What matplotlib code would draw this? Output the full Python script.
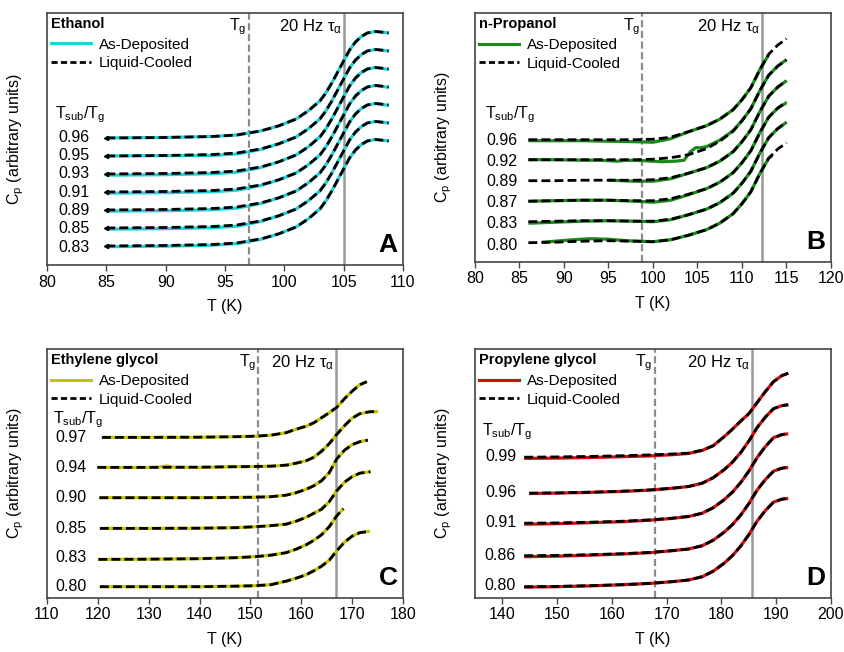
import matplotlib
matplotlib.use("Agg")
import matplotlib.pyplot as plt
from matplotlib.lines import Line2D

plt.rcParams['font.family'] = ['Liberation Sans', 'DejaVu Sans']
plt.rcParams['mathtext.fontset'] = 'custom'
plt.rcParams['mathtext.rm'] = 'Liberation Sans'
plt.rcParams['mathtext.it'] = 'Liberation Sans:italic'
plt.rcParams['mathtext.bf'] = 'Liberation Sans:bold'

# ---------------- A: Ethanol ----------------
T_A = [85, 90, 94, 96, 98, 99.5, 101, 102, 103, 103.5, 104, 104.5, 105, 105.5, 106, 106.5, 107, 107.7, 108.8]
lc_a083 = [19, 19.5, 20.5, 22, 26, 31, 38, 46, 56, 64, 74, 85, 96, 107, 115, 120.5, 124, 125.5, 124]
lc_a085 = [37, 37.5, 38.5, 40, 44, 49, 56, 64, 74, 82, 92, 103, 114, 125, 133, 138.5, 142, 143.5, 142]
lc_a089 = [55, 55.5, 56.5, 58, 62, 67, 74, 82, 92, 100, 110, 121, 132, 143, 151, 156.5, 160, 161.5, 160]
lc_a091 = [73, 73.5, 74.5, 76, 80, 85, 92, 100, 110, 118, 128, 139, 150, 161, 169, 174.5, 178, 179.5, 178]
lc_a093 = [91, 91.5, 92.5, 94, 98, 103, 110, 118, 128, 136, 146, 157, 168, 179, 187, 192.5, 196, 197.5, 196]
lc_a095 = [109, 109.5, 110.5, 112, 116, 121, 128, 136, 146, 154, 164, 175, 186, 197, 205, 210.5, 214, 215.5, 214]
lc_a096 = [127, 127.5, 128.5, 130, 134, 139, 146, 154, 164, 172, 182, 193, 204, 215, 223, 228.5, 232, 233.5, 232]
ad_a083 = [18.3, 18.8, 19.8, 21.4, 25.6, 31, 38, 46, 56, 64, 74, 85, 96, 107, 115, 120.5, 124, 125.5, 124]
ad_a085 = [35.8, 36.3, 37.3, 38.8, 43.4, 49, 56, 64, 74, 82, 92, 103, 114, 125, 133, 138.5, 142, 143.5, 142]
ad_a089 = [53.8, 54.3, 55.3, 56.8, 61.4, 67, 74, 82, 92, 100, 110, 121, 132, 143, 151, 156.5, 160, 161.5, 159.5]
ad_a091 = [71.8, 72.3, 73.3, 74.8, 79.4, 85, 92, 100, 110, 118, 128, 139, 150, 161, 169, 174.5, 178, 179.5, 177.5]
ad_a093 = [89.8, 90.3, 91.3, 92.8, 97.4, 103, 110, 118, 128, 136, 146, 157, 168, 179, 187, 192.5, 196, 197.5, 195.5]
ad_a095 = [109, 109.3, 109.6, 111, 115.5, 121, 128, 136, 146, 154, 164, 175, 186, 197, 205, 210.5, 214, 215.5, 214]
ad_a096 = [127, 127.5, 128.5, 130, 134, 139, 146, 154, 164, 172, 182, 193, 204, 215, 223, 228.5, 232, 233.5, 232]
labels_A = ['0.83', '0.85', '0.89', '0.91', '0.93', '0.95', '0.96']
label_y_A = [17.5, 36, 54, 72.5, 91, 109, 127]

# ---------------- B: n-Propanol ----------------
T_B = [86, 89, 92, 95, 98, 100, 102, 104, 106, 107.5, 109, 110, 111, 112, 113, 114, 115]
lc_b080 = [19, 19.5, 20.5, 21, 20.5, 20, 22, 26.5, 32, 38.5, 48, 58, 70, 88, 103.5, 112.5, 119]
lc_b083 = [40, 40.5, 41, 41, 40.5, 40.5, 42.5, 47, 52.5, 59, 68.5, 78.5, 90.5, 108.5, 124, 133, 139.5]
lc_b087 = [60.5, 61, 61.5, 61.5, 61, 61, 63, 67.5, 73, 79.5, 89, 99, 111, 129, 144.5, 153.5, 160]
lc_b089 = [81, 81, 81.5, 81.5, 81.5, 82, 84, 88.5, 94, 100.5, 110, 120, 132, 150, 165.5, 174.5, 181]
lc_b092 = [102, 102, 102, 102, 102, 102.5, 104, 107, 113, 120.5, 130.5, 141, 153, 171, 186.5, 195.5, 202]
lc_b096 = [122, 122, 122, 122, 122, 122.5, 124.5, 130, 136, 142.5, 152, 162, 174, 192, 207.5, 216.5, 223]
T_ad_b080 = [87.5, 89, 91, 93, 95, 97, 100, 102, 104, 106, 107.5, 109, 110, 111, 112, 113, 113.4]
ad_b080 = [19.5, 20.5, 22, 23, 22.5, 21, 20, 22, 26.5, 32, 38.5, 48, 58, 70, 88, 103.5, 106]
ad_b083 = [38.5, 39.5, 40.5, 41, 40.5, 40, 42, 47, 52.5, 59, 68.5, 78.5, 90.5, 108.5, 124, 133, 139.5]
ad_b087 = [60.5, 61, 61.5, 61.5, 60.5, 59.5, 61.5, 67, 73, 79.5, 89, 99, 111, 129, 144.5, 153.5, 159]
T_ad_b089 = [95, 98, 100, 102, 104, 106, 107.5, 109, 110, 111, 112, 113, 114, 115]
ad_b089 = [81.5, 80.5, 80.5, 83, 88.5, 94, 100.5, 110, 120, 132, 150, 165.5, 174.5, 181]
T_ad_b092 = [86, 89, 92, 94, 96, 97, 99, 101, 102.5, 103.5, 104.2, 104.8, 105.4, 106, 107.5, 109, 110, 111, 112,
             113, 114, 115]
ad_b092 = [102, 102, 101.5, 101.5, 100.5, 101.5, 101, 100, 100.5, 101.5, 110, 114, 114, 115, 121.5, 131, 141, 153,
           171, 186.5, 195.5, 202]
T_ad_b096 = [86, 89, 92, 95, 98, 100, 102, 104, 106, 107.5, 109, 110, 111, 112, 113]
ad_b096 = [121, 121, 121, 120.5, 120, 119.5, 123, 130, 136, 142.5, 152, 162, 174, 192, 207]
labels_B = ['0.80', '0.83', '0.87', '0.89', '0.92', '0.96']
label_y_B = [16.7, 38.3, 59.3, 80, 100.7, 121.7]

# ---------------- C: Ethylene glycol ----------------
T_C = [120.4, 130, 140, 147, 151, 154, 157, 159, 161, 162.5, 164, 165.5, 167, 168.5, 170, 171.5, 173.5]
lc_c080 = [11, 11, 11, 11.5, 12, 13, 16.5, 19.5, 23, 27, 31.5, 37.5, 47, 55.5, 61.5, 65, 66.5]
T_c083 = [120.1, 130, 140, 147, 151, 154, 157, 159, 161, 162.5, 164, 165.5, 167, 168.3]
lc_c083 = [38.3, 38.5, 39, 40, 41, 42.5, 45, 48.5, 53, 57.5, 63, 71, 82, 89]
T_c085 = [120.4, 130, 140, 147, 151, 154, 157, 159, 161, 162.5, 164, 165.5, 167, 168.5, 170, 171.5, 173.6]
lc_c085 = [69.3, 69.3, 69.5, 70, 71, 72, 73.5, 76.5, 80.5, 84.5, 88.5, 96, 107, 115.5, 121, 124.5, 126]
T_c090 = [120.3, 130, 140, 147, 151, 154, 157, 159, 161, 162.5, 164, 165.5, 167, 168.5, 170, 171.5, 173.1]
lc_c090 = [100, 100, 100, 100.3, 100.5, 101, 102.5, 105, 108.5, 112, 117, 125, 139, 147.5, 153, 156, 157.5]
T_c094 = [119.9, 130, 140, 147, 151, 154, 157, 159, 161, 162.5, 164, 165.5, 167, 168.5, 170, 171.5, 173.5, 175.1]
lc_c094 = [130.3, 130.3, 130.5, 131, 131.2, 131.5, 132.5, 134.5, 137, 140.5, 146.5, 154, 163.5, 172, 179.5, 184, 186, 186]
T_ad_c094 = [119.9, 130, 132, 133.5, 135, 140, 147, 151, 154, 157, 159, 161, 162.5, 164, 165.5, 167, 168.5, 170,
             171.5, 173.5, 175.1]
ad_c094 = [130.3, 130.3, 130.6, 131.7, 130.5, 130.3, 131, 131.2, 131.5, 132.5, 134.5, 137, 140.5, 146.5, 154,
           163.5, 172, 179.5, 184, 186, 186]
T_c097 = [120.8, 130, 140, 147, 151, 154, 157, 159, 161, 162.5, 164, 165.5, 167, 168.5, 170, 171.5, 172.9]
lc_c097 = [160.3, 160.3, 160.5, 161, 161.5, 162.5, 165, 168.5, 171.5, 175, 180, 185, 190.5, 199, 206.5, 213, 216]
labels_C = ['0.80', '0.83', '0.85', '0.90', '0.94', '0.97']
label_y_C = [11, 39.7, 69.3, 100, 130.3, 160.3]

# ---------------- D: Propylene glycol ----------------
T_D = [144, 150, 156, 162, 167, 171, 174, 176.5, 178.5, 180.5, 182, 183.5, 185, 186.5, 188, 189.5, 191, 192.2]
lc_d080 = [11, 11.3, 12, 13, 14.3, 16, 17.7, 21, 26.5, 34.5, 42, 51.5, 63, 76.5, 87, 95.5, 98.5, 99.3]
lc_d086 = [42, 42.3, 43, 44, 45.3, 47, 48.7, 52, 57.5, 65.5, 73, 82.5, 94, 107.5, 118, 126.5, 129.5, 130.3]
lc_d091 = [74.5, 74.8, 75.5, 76.5, 77.8, 79.5, 81.2, 84.5, 90, 98, 105.5, 115, 126.5, 140, 151, 160, 163, 164]
T_d096 = [144.9, 150, 156, 162, 167, 171, 174, 176.5, 178.5, 180.5, 182, 183.5, 185, 186.5, 188, 189.5, 191, 192.2]
lc_d096 = [104.5, 104.8, 105.5, 106.5, 107.8, 109.5, 111.2, 114.5, 120, 128, 135.5, 145, 156.5, 170, 180.5, 189, 192,
           193]
lc_d099 = [140.5, 140.8, 141.3, 142, 142.8, 143.7, 144.6, 147.5, 152, 161, 168.5, 176.5, 184, 195, 206, 216, 222,
           224.5]
ad_d080 = [10.5, 11, 11.8, 13, 14.3, 16, 17.7, 21, 26.5, 34.5, 42, 51.5, 63, 76.5, 87, 95.5, 98.5, 99.3]
ad_d086 = [41, 41.5, 42.5, 43.7, 45, 47, 48.7, 52, 57.5, 65.5, 73, 82.5, 94, 107.5, 118, 126.5, 129.5, 130.3]
ad_d091 = [73.5, 74, 75, 76, 77.5, 79.3, 81.2, 84.5, 90, 98, 105.5, 115, 126.5, 140, 151, 160, 163, 164]
ad_d096 = [104.2, 104.6, 105.3, 106.3, 107.6, 109.4, 111.2, 114.5, 120, 128, 135.5, 145, 156.5, 170, 180.5, 189, 192,
           193]
ad_d099 = [139.3, 139.6, 140.2, 141, 141.8, 143, 144.2, 147.3, 152, 161, 168.5, 176.5, 184, 195, 206, 216, 222,
           224.5]
labels_D = ['0.80', '0.86', '0.91', '0.96', '0.99']
label_y_D = [12, 41.7, 75.3, 105.3, 141]

panels = [
    dict(rect=[0.0556, 0.5936, 0.4213, 0.3865], ylim=252, xlim=(80, 110), ticks=range(80, 111, 5),
         tg=97, tau=105, color='#22d0d8', name='Ethanol', letter='A',
         lc=[(T_A, lc_a083), (T_A, lc_a085), (T_A, lc_a089), (T_A, lc_a091), (T_A, lc_a093), (T_A, lc_a095),
             (T_A, lc_a096)],
         ad=[(T_A, ad_a083), (T_A, ad_a085), (T_A, ad_a089), (T_A, ad_a091), (T_A, ad_a093), (T_A, ad_a095),
             (T_A, ad_a096)],
         labels=labels_A, label_y=label_y_A, label_x=83.6, tsub=(80.7, 150), arrows=True),
    dict(rect=[0.5621, 0.5986, 0.4213, 0.3808], ylim=248.3, xlim=(80, 120), ticks=range(80, 121, 5),
         tg=98.8, tau=112.2, color='#1a8a1a', name='n-Propanol', letter='B',
         lc=[(T_B, lc_b080), (T_B, lc_b083), (T_B, lc_b087), (T_B, lc_b089), (T_B, lc_b092), (T_B, lc_b096)],
         ad=[(T_ad_b080, ad_b080), (T_B, ad_b083), (T_B, ad_b087), (T_ad_b089, ad_b089), (T_ad_b092, ad_b092),
             (T_ad_b096, ad_b096)],
         labels=labels_B, label_y=label_y_B, label_x=84.8, tsub=(81.1, 146.7), arrows=False),
    dict(rect=[0.0556, 0.0833, 0.4213, 0.3808], ylim=248.3, xlim=(110, 180), ticks=range(110, 181, 10),
         tg=151.5, tau=166.8, color='#c4c400', name='Ethylene glycol', letter='C',
         lc=[(T_C, lc_c080), (T_c083, lc_c083), (T_c085, lc_c085), (T_c090, lc_c090), (T_c094, lc_c094),
             (T_c097, lc_c097)],
         ad=[(T_C, lc_c080), (T_c083, lc_c083), (T_c085, lc_c085), (T_c090, lc_c090), (T_ad_c094, ad_c094),
             (T_c097, lc_c097)],
         labels=labels_C, label_y=label_y_C, label_x=117.8, tsub=(111.2, 177.7), arrows=False),
    dict(rect=[0.5621, 0.0833, 0.4213, 0.3808], ylim=248.3, xlim=(135, 200), ticks=range(140, 201, 10),
         tg=167.8, tau=185.6, color='#cc1010', name='Propylene glycol', letter='D',
         lc=[(T_D, lc_d080), (T_D, lc_d086), (T_D, lc_d091), (T_d096, lc_d096), (T_D, lc_d099)],
         ad=[(T_D, ad_d080), (T_D, ad_d086), (T_D, ad_d091), (T_d096, ad_d096), (T_D, ad_d099)],
         labels=labels_D, label_y=label_y_D, label_x=142.5, tsub=(136.3, 166), arrows=False),
]

fig = plt.figure(figsize=(8.45, 6.52), dpi=100)

for p in panels:
    ax = fig.add_axes(p['rect'])
    ax.set_xlim(*p['xlim'])
    ax.set_ylim(0, p['ylim'])
    ax.set_xticks(list(p['ticks']))
    ax.tick_params(axis='x', direction='out', length=4, width=1, labelsize=11.5, pad=3, color='#444444')
    ax.tick_params(axis='y', left=False, labelleft=False)
    for s in ax.spines.values():
        s.set_color('#444444')
        s.set_linewidth(1.2)
    ax.set_xlabel('T (K)', fontsize=11.5, labelpad=7)
    ax.set_ylabel(r'C$_\mathregular{p}$ (arbitrary units)', fontsize=11.5, labelpad=15)

    ax.axvline(p['tg'], color='#8c8c8c', lw=1.6, ls=(0, (3.2, 1.6)), zorder=1)
    ax.axvline(p['tau'], color='#999999', lw=1.8, zorder=1)

    for t, y in p['ad']:
        ax.plot(t, y, color=p['color'], lw=2.3, zorder=2, solid_capstyle='butt')
    for t, y in p['lc']:
        ax.plot(t, y, color='black', lw=2.0, dashes=(3.2, 1.5), zorder=3)
        if p['arrows']:
            ax.plot(t[0], y[0], marker='<', ms=3, color='black', zorder=3)

    for lab, ly in zip(p['labels'], p['label_y']):
        ax.text(p['label_x'], ly, lab, fontsize=11.5, ha='right', va='center')
    ax.text(p['tsub'][0], p['tsub'][1], r'T$_\mathregular{sub}$/T$_\mathregular{g}$', fontsize=11.5,
            ha='left', va='center')

    ax.text(p['tg'] - 0.15 * (p['xlim'][1] - p['xlim'][0]) / 30, p['ylim'] - 3, r'T$_\mathregular{g}$',
            fontsize=11.5, ha='right', va='top')
    ax.text(p['tau'] - 0.15 * (p['xlim'][1] - p['xlim'][0]) / 30, p['ylim'] - 4, r'20 Hz τ$_\mathregular{α}$',
            fontsize=12, ha='right', va='top')

    ax.text(0.985, 0.03, p['letter'], transform=ax.transAxes, fontsize=19, fontweight='bold',
            ha='right', va='bottom')

    handles = [Line2D([], [], color=p['color'], lw=2.2),
               Line2D([], [], color='black', lw=2.0, dashes=(2.2, 1.2))]
    leg = ax.legend(handles, ['As-Deposited', 'Liquid-Cooled'], title=p['name'], loc='upper left',
                    bbox_to_anchor=(0.0, 1.0), frameon=False, fontsize=11, alignment='left',
                    title_fontproperties={'weight': 'bold', 'size': 10.5}, handlelength=2.6,
                    handletextpad=0.55, borderaxespad=0.15, borderpad=0.1, labelspacing=0.3)
    leg._legend_box.sep = 5

fig.savefig('out.png', dpi=100)
